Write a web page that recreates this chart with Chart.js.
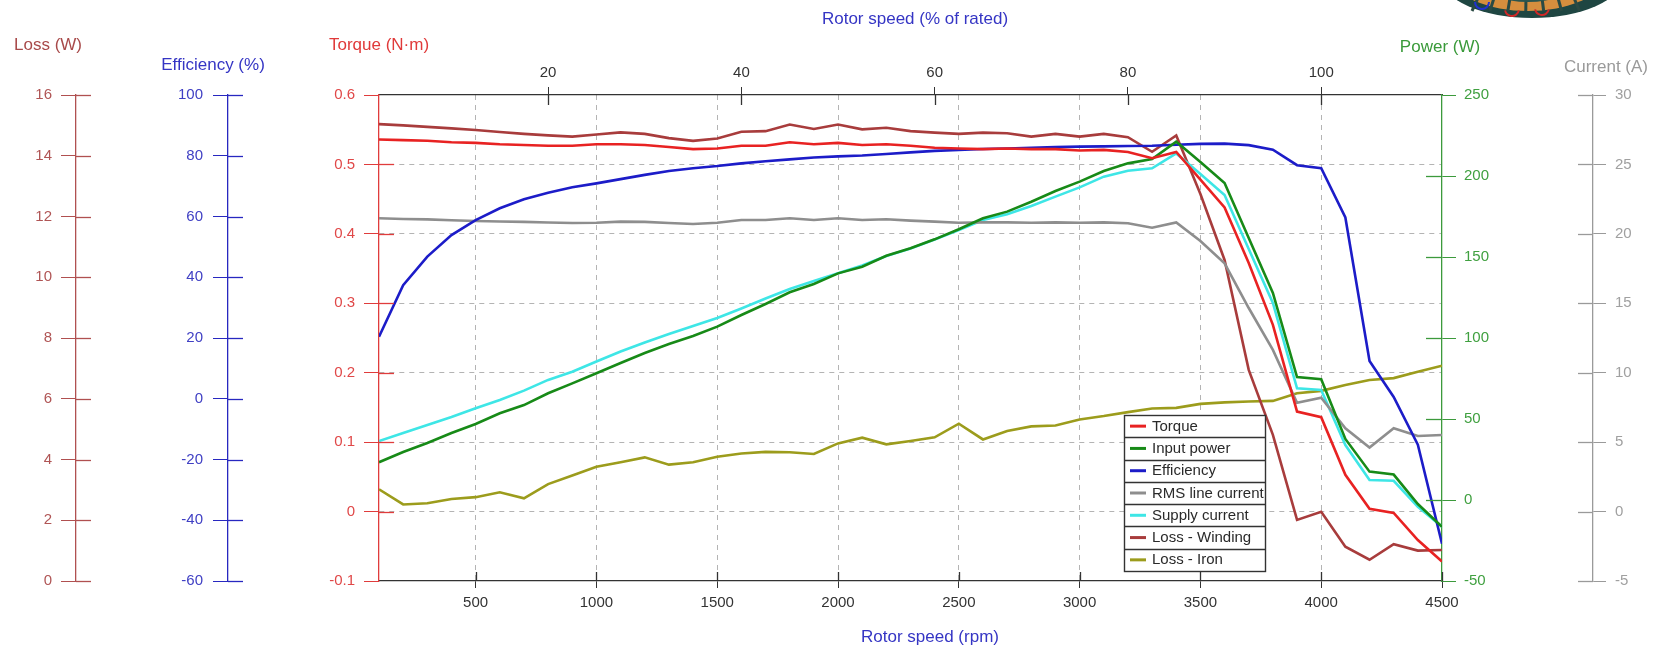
<!DOCTYPE html>
<html><head><meta charset="utf-8">
<script src="https://cdn.jsdelivr.net/npm/chart.js@4.4.1/dist/chart.umd.min.js"></script>
<style>html,body{margin:0;padding:0;background:#fff;overflow:hidden}canvas{display:block}</style>
</head><body>
<canvas id="c" width="1661" height="649"></canvas>
<script>
// ---------- data ----------
const rpm = [100,200,300,400,500,600,700,800,900,1000,1100,1200,1300,1400,1500,1600,1700,1800,1900,2000,2100,2200,2300,2400,2500,2600,2700,2800,2900,3000,3100,3200,3300,3400,3500,3600,3700,3800,3900,4000,4100,4200,4300,4400,4500];
const torque = [0.536,0.535,0.534,0.532,0.531,0.529,0.528,0.527,0.527,0.529,0.529,0.528,0.525,0.522,0.523,0.527,0.527,0.532,0.529,0.531,0.528,0.529,0.527,0.524,0.523,0.522,0.523,0.522,0.522,0.520,0.521,0.518,0.509,0.518,0.478,0.438,0.358,0.269,0.144,0.136,0.053,0.004,-0.002,-0.041,-0.072];
const inputPower = [23.3,29.6,35.2,41.4,46.9,53.5,58.6,65.9,72.0,78.2,84.6,90.7,96.3,101.2,107.0,114.2,121.0,128.2,133.3,139.9,144.0,150.8,155.4,160.9,167.1,173.9,178.0,184.1,190.7,196.5,203.1,207.8,210.5,221.2,208.7,195.7,161.7,127.8,75.9,74.5,37.7,17.5,15.7,-2.5,-16.5];
const efficiency = [20.4,37.4,46.8,53.9,58.8,62.7,65.7,67.8,69.6,70.9,72.3,73.7,75.0,75.9,76.6,77.5,78.2,78.8,79.4,79.8,80.1,80.6,81.1,81.6,81.9,82.2,82.4,82.6,82.9,83.0,83.1,83.2,83.3,83.6,83.9,84.0,83.5,82.0,76.9,75.9,59.7,12.4,0.6,-15.1,-47.7];
const rmsCurrent = [21.12,21.07,21.04,20.98,20.93,20.89,20.86,20.82,20.78,20.80,20.88,20.86,20.78,20.71,20.80,21.00,21.00,21.12,21.00,21.12,21.00,21.05,20.95,20.88,20.80,20.83,20.83,20.80,20.83,20.80,20.83,20.76,20.44,20.82,19.49,17.88,14.66,11.64,7.84,8.20,6.00,4.61,6.00,5.44,5.51];
const supplyCurrent = [5.08,5.66,6.24,6.81,7.44,8.04,8.71,9.48,10.07,10.81,11.53,12.18,12.79,13.37,13.94,14.63,15.35,16.03,16.61,17.16,17.72,18.41,18.95,19.59,20.28,21.00,21.41,22.01,22.68,23.35,24.12,24.55,24.72,25.79,24.31,22.80,18.91,15.02,8.88,8.76,4.79,2.27,2.22,0.35,-1.09];
const lossWinding = [15.04,15.00,14.95,14.90,14.85,14.78,14.72,14.67,14.63,14.70,14.77,14.72,14.58,14.49,14.57,14.79,14.81,15.03,14.88,15.03,14.87,14.92,14.81,14.76,14.72,14.76,14.74,14.63,14.72,14.63,14.72,14.61,14.13,14.67,12.74,10.57,6.95,4.81,2.01,2.28,1.13,0.70,1.21,1.00,1.02];
const lossIron = [3.02,2.52,2.56,2.70,2.76,2.92,2.72,3.19,3.47,3.76,3.91,4.07,3.83,3.91,4.09,4.20,4.25,4.24,4.18,4.53,4.72,4.50,4.61,4.73,5.18,4.66,4.94,5.09,5.12,5.32,5.43,5.56,5.68,5.70,5.83,5.88,5.91,5.93,6.18,6.26,6.45,6.62,6.68,6.89,7.09];

// tick labels
const rpmTicks = [500,1000,1500,2000,2500,3000,3500,4000,4500];
const pctTicks = [20,40,60,80,100];
const torqueTicks = [-0.1,0,0.1,0.2,0.3,0.4,0.5,0.6];
const powerTicks = [-50,0,50,100,150,200,250];
const effTicks = [-60,-40,-20,0,20,40,60,80,100];
const lossTicks = [0,2,4,6,8,10,12,14,16];
const currentTicks = [-5,0,5,10,15,20,25,30];

// ---------- chart ----------
const FONT = "'Liberation Sans', Arial, sans-serif";
Chart.defaults.font.family = FONT;

const pts = arr => rpm.map((r,i)=>({x:r, y:arr[i]}));
const ds = (label, arr, color, axis) => ({label, data: pts(arr), borderColor: color, backgroundColor: color,
  yAxisID: axis, borderWidth: 2.6, pointRadius: 0, tension: 0, fill: false});

function yAxis(pos, weight, width, min, max, ticks, lineColor, labelColor, tickLen, pad, onChart) {
  return {
    type: 'linear', position: pos, weight, min, max,
    afterBuildTicks: s => { s.ticks = ticks.map(v => ({value: v})); },
    afterFit: s => { s.width = width; },
    ticks: {color: labelColor, font: {size: 15}, padding: pad, callback: v => String(v)},
    grid: onChart ? {
      drawOnChartArea: true, tickLength: tickLen, tickColor: lineColor,
      color: c => (c.index === 0 || c.index === ticks.length - 1) ? 'rgba(0,0,0,0)' : '#b4b4b4'
    } : {drawOnChartArea: false, tickLength: tickLen, tickColor: lineColor},
    border: onChart ? {color: lineColor, width: 1.3, dash: [5,5]} : {color: lineColor, width: 1.3}
  };
}

const titles = [
  {t:'Loss (W)', x:48, y:45, c:'#a84a4a'},
  {t:'Efficiency (%)', x:213, y:65, c:'#3535c4'},
  {t:'Torque (N\u00b7m)', x:379, y:45, c:'#e03a3a'},
  {t:'Power (W)', x:1440, y:47, c:'#3a9a3a'},
  {t:'Current (A)', x:1606, y:67, c:'#9a9a9a'},
  {t:'Rotor speed (% of rated)', x:915, y:19, c:'#3535c4'},
  {t:'Rotor speed (rpm)', x:930, y:637, c:'#3535c4'}
];

const decoPlugin = {id:'deco', beforeDraw(chart){
  const c = chart.ctx; c.save();
  c.beginPath(); c.rect(1400,0,261,30); c.clip();
  c.fillStyle = '#1f4642'; c.beginPath(); c.ellipse(1532,-22,90,40,0,0,Math.PI*2); c.fill();
  c.fillStyle = '#d68e3e'; c.beginPath(); c.ellipse(1528,-22,74,33,0,0,Math.PI*2); c.fill();
  c.strokeStyle = '#2a4a44'; c.lineWidth = 3;
  [1478,1494,1510,1526,1542,1558,1574].forEach(x=>{c.beginPath(); c.moveTo(x,-2); c.lineTo(x+(x-1528)*0.12,11); c.stroke();});
  c.fillStyle = '#2a5550'; c.beginPath(); c.ellipse(1528,-18,46,20,0,0,Math.PI*2); c.fill();
  c.strokeStyle = '#2030d0'; c.lineWidth = 2; c.beginPath(); c.arc(1482,2,7,0,Math.PI); c.stroke();
  c.strokeStyle = '#d02828'; c.beginPath(); c.arc(1512,9,7,0.2,Math.PI-0.2); c.stroke();
  c.beginPath(); c.arc(1542,8,7,0.2,Math.PI-0.2); c.stroke();
  c.restore();
}};

const innerTickPlugin = {id:'innerTicks', afterDraw(chart){
  const c = chart.ctx; c.save(); c.lineWidth = 1.3;
  const specs = [
    {id:'yLoss', side:'left', len:15, skip:false},
    {id:'yEff', side:'left', len:15, skip:false},
    {id:'yT', side:'left', len:15, skip:true},
    {id:'yP', side:'right', len:16, skip:true},
    {id:'yC', side:'right', len:15, skip:false},
    {id:'x', side:'bottom', len:9, skip:false},
    {id:'x2', side:'top', len:10, skip:false}
  ];
  specs.forEach(sp => {
    const s = chart.scales[sp.id];
    c.strokeStyle = s.options.grid.tickColor;
    s.ticks.forEach((tk,i) => {
      if (sp.skip && (i===0 || i===s.ticks.length-1)) return;
      const p = Math.round(s.getPixelForValue(tk.value)) + 0.5;
      c.beginPath();
      if (sp.side==='left') { c.moveTo(s.right, p); c.lineTo(s.right+sp.len, p); }
      else if (sp.side==='right') { c.moveTo(s.left, p); c.lineTo(s.left-sp.len, p); }
      else if (sp.side==='bottom') { c.moveTo(p, s.top); c.lineTo(p, s.top-sp.len); }
      else { c.moveTo(p, s.bottom); c.lineTo(p, s.bottom+sp.len); }
      c.stroke();
    });
  });
  c.restore();
}};

const titlePlugin = {id:'titles', afterDraw(chart){
  const c = chart.ctx; c.save();
  c.font = '17px ' + FONT; c.textAlign = 'center'; c.textBaseline = 'middle';
  titles.forEach(t => { c.fillStyle = t.c; c.fillText(t.t, t.x, t.y); });
  c.restore();
}};

const legendPlugin = {id:'boxLegend', afterDraw(chart){
  const c = chart.ctx; c.save();
  const L = 1124, T = 415, W = 141, H = 156;
  const n = chart.data.datasets.length, rh = H / n;
  c.fillStyle = '#fff'; c.fillRect(L, T, W, H);
  c.strokeStyle = '#333'; c.lineWidth = 1.4;
  c.strokeRect(L+0.5, T+0.5, W, H);
  for (let i=1;i<n;i++){ const y = Math.round(T + i*rh)+0.5; c.beginPath(); c.moveTo(L, y); c.lineTo(L+W, y); c.stroke(); }
  c.font = '15px ' + FONT; c.textBaseline = 'middle'; c.textAlign = 'left';
  chart.data.datasets.forEach((d,i) => {
    const yc = T + (i+0.5)*rh;
    c.strokeStyle = d.borderColor; c.lineWidth = 3;
    c.beginPath(); c.moveTo(L+6, yc); c.lineTo(L+22, yc); c.stroke();
    c.fillStyle = '#2a2a2a'; c.fillText(d.label, L+28, yc+0.5);
  });
  c.restore();
}};

new Chart(document.getElementById('c'), {
  type: 'line',
  data: {datasets: [
    ds('Torque', torque, '#e82222', 'yT'),
    ds('Input power', inputPower, '#178a17', 'yP'),
    ds('Efficiency', efficiency, '#1c1cc8', 'yEff'),
    ds('RMS line current', rmsCurrent, '#8e8e8e', 'yC'),
    ds('Supply current', supplyCurrent, '#3ee6e6', 'yC'),
    ds('Loss - Winding', lossWinding, '#a83c3c', 'yLoss'),
    ds('Loss - Iron', lossIron, '#9c9c1c', 'yLoss')
  ]},
  options: {
    responsive: false, devicePixelRatio: 1, animation: false,
    layout: {padding: 0},
    plugins: {legend: {display: false}, tooltip: {enabled: false}, title: {display: false}},
    events: [],
    scales: {
      x: {
        type: 'linear', position: 'bottom', min: 100, max: 4500, weight: 1,
        afterBuildTicks: s => { s.ticks = rpmTicks.map(v => ({value: v})); },
        afterFit: s => { s.height = 68; },
        ticks: {color: '#333', font: {size: 15}, padding: 6, maxRotation: 0, callback: v => String(v)},
        grid: {drawOnChartArea: true, tickLength: 7, tickColor: '#333',
               color: c => (c.index === rpmTicks.length - 1) ? 'rgba(0,0,0,0)' : '#b4b4b4'},
        border: {color: '#333', width: 1.3, dash: [5,5]}
      },
      x2: {
        type: 'linear', position: 'top', min: 2.5, max: 112.5, weight: 1,
        afterBuildTicks: s => { s.ticks = pctTicks.map(v => ({value: v})); },
        afterFit: s => { s.height = 95; },
        ticks: {color: '#333', font: {size: 15}, padding: 5, maxRotation: 0, callback: v => String(v)},
        grid: {drawOnChartArea: false, tickLength: 8, tickColor: '#333'},
        border: {color: '#333', width: 1.3}
      },
      yLoss: yAxis('left', 3, 76, 0, 16, lossTicks, '#b05050', '#b05555', 15, 9, false),
      yEff:  yAxis('left', 2, 152, -60, 100, effTicks, '#2828c0', '#4040c4', 15, 10, false),
      yT:    yAxis('left', 1, 151, -0.1, 0.6, torqueTicks, '#e03c3c', '#e04848', 15, 9, true),
      yP:    yAxis('right', 1, 151, -50, 250, powerTicks, '#3c9a3c', '#40a040', 14, 8, false),
      yC:    yAxis('right', 2, 68, -5, 30, currentTicks, '#9a9a9a', '#a0a0a0', 13, 9, false)
    }
  },
  plugins: [decoPlugin, innerTickPlugin, titlePlugin, legendPlugin]
});
</script>
</body></html>
